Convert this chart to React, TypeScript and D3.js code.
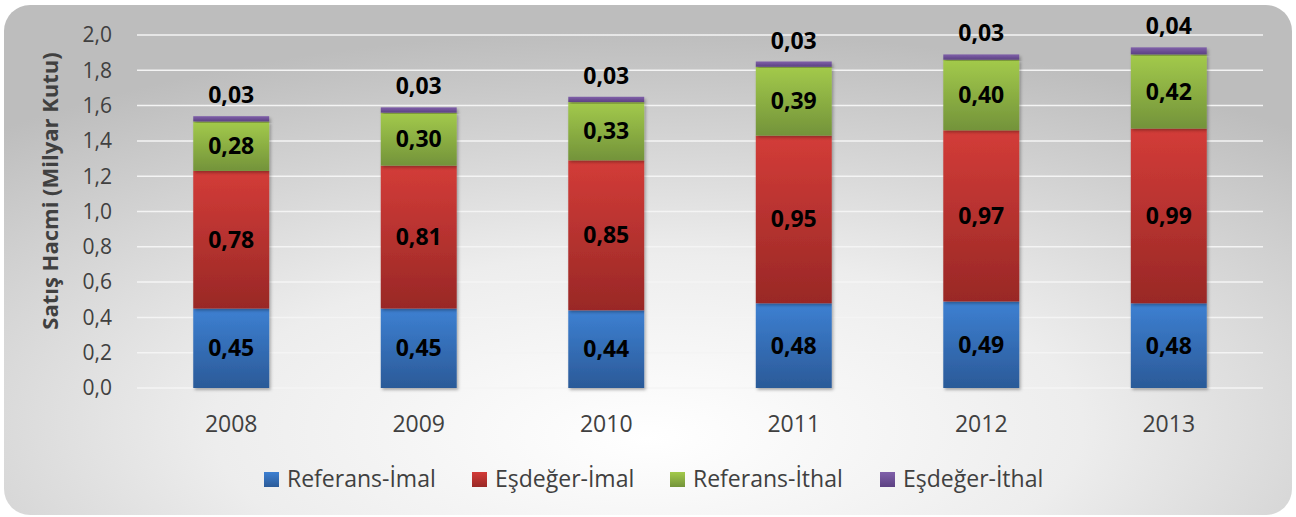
import React from 'react';
import * as d3 from 'd3';

const years = ['2008', '2009', '2010', '2011', '2012', '2013'];
const referansImal = [0.45, 0.45, 0.44, 0.48, 0.49, 0.48];
const esdegerImal = [0.78, 0.81, 0.85, 0.95, 0.97, 0.99];
const referansIthal = [0.28, 0.30, 0.33, 0.39, 0.40, 0.42];
const esdegerIthal = [0.03, 0.03, 0.03, 0.03, 0.03, 0.04];
const seriesNames = ['Referans-İmal', 'Eşdeğer-İmal', 'Referans-İthal', 'Eşdeğer-İthal'];
const yTicks = [0, 0.2, 0.4, 0.6, 0.8, 1.0, 1.2, 1.4, 1.6, 1.8, 2.0];
const yTitle = 'Satış Hacmi (Milyar Kutu)';

const colors = [
  ['#3d80d2', '#2b5a98'],
  ['#d33c38', '#992826'],
  ['#a3ca4b', '#73933a'],
  ['#8060aa', '#5c4182'],
];

const W = 1296;
const H = 517;
const FONT = '"Open Sans", "Noto Sans", sans-serif';
const fmt = (v: number) => d3.format('.2f')(v).replace('.', ',');
const fmt1 = (v: number) => d3.format('.1f')(v).replace('.', ',');

export default function App() {
  const x = d3.scaleBand<string>().domain(years).range([137, 1263]).paddingInner(0.595).paddingOuter(0.3);
  const y = d3.scaleLinear().domain([0, 2]).range([388, 35]);
  const rows = years.map((yr, i) => ({
    year: yr,
    s0: referansImal[i],
    s1: esdegerImal[i],
    s2: referansIthal[i],
    s3: esdegerIthal[i],
  }));
  const stack = d3.stack<any>().keys(['s0', 's1', 's2', 's3'])(rows);
  const legendX = [264, 472, 670, 880];

  return (
    <svg width={W} height={H} style={{ position: 'absolute', left: 0, top: 0 }} fontFamily={FONT}>
      <defs>
        <radialGradient id="bg" cx="50%" cy="80%" r="75%" fx="50%" fy="85%">
          <stop offset="0%" stopColor="#ffffff" />
          <stop offset="45%" stopColor="#ededed" />
          <stop offset="100%" stopColor="#bdbdbd" />
        </radialGradient>
        {colors.map((c, i) => (
          <linearGradient key={i} id={`g${i}`} x1="0" y1="0" x2="0" y2="1">
            <stop offset="0%" stopColor={c[0]} />
            <stop offset="100%" stopColor={c[1]} />
          </linearGradient>
        ))}
        <filter id="sh" x="-10%" y="-10%" width="130%" height="130%">
          <feDropShadow dx="1.5" dy="2" stdDeviation="1.5" floodColor="#000" floodOpacity="0.3" />
        </filter>
      </defs>
      <rect x={4} y={5} width={1288} height={510} rx={26} ry={26} fill="url(#bg)" />
      {yTicks.map((t) => (
        <g key={t}>
          <line x1={137} x2={1263} y1={y(t)} y2={y(t)} stroke="#f4f4f4" strokeWidth={1.5} />
          <text x={112} y={y(t)} dy="0.35em" textAnchor="end" fontSize={21} fill="#404040">
            {fmt1(t)}
          </text>
        </g>
      ))}
      <text
        transform={`translate(50,${191}) rotate(-90)`}
        textAnchor="middle"
        dy="0.35em"
        fontSize={22}
        fontWeight="bold"
        fill="#404040"
      >
        {yTitle}
      </text>
      {stack.map((layer, li) => (
        <g key={li}>
          {layer.map((d: any, i: number) => (
            <rect
              key={i}
              x={x(years[i])}
              width={x.bandwidth()}
              y={y(d[1])}
              height={y(d[0]) - y(d[1])}
              fill={`url(#g${li})`}
              filter="url(#sh)"
            />
          ))}
        </g>
      ))}
      {stack.map((layer, li) => (
        <g key={'l' + li}>
          {layer.map((d: any, i: number) => {
            const v = d[1] - d[0];
            const cx = (x(years[i]) as number) + x.bandwidth() / 2;
            const cy = li === 3 ? y(d[1]) - 21 : (y(d[0]) + y(d[1])) / 2;
            return (
              <text key={i} x={cx} y={cy} dy="0.35em" textAnchor="middle" fontSize={23} fontWeight="bold" fill="#000">
                {fmt(v)}
              </text>
            );
          })}
        </g>
      ))}
      {years.map((yr) => (
        <text key={yr} x={(x(yr) as number) + x.bandwidth() / 2} y={424} dy="0.35em" textAnchor="middle" fontSize={23} fill="#404040">
          {yr}
        </text>
      ))}
      {seriesNames.map((n, i) => (
        <g key={n}>
          <rect x={legendX[i]} y={472} width={15} height={15} fill={`url(#g${i})`} />
          <text x={legendX[i] + 23} y={479} dy="0.35em" fontSize={23} fill="#404040">
            {n}
          </text>
        </g>
      ))}
    </svg>
  );
}
